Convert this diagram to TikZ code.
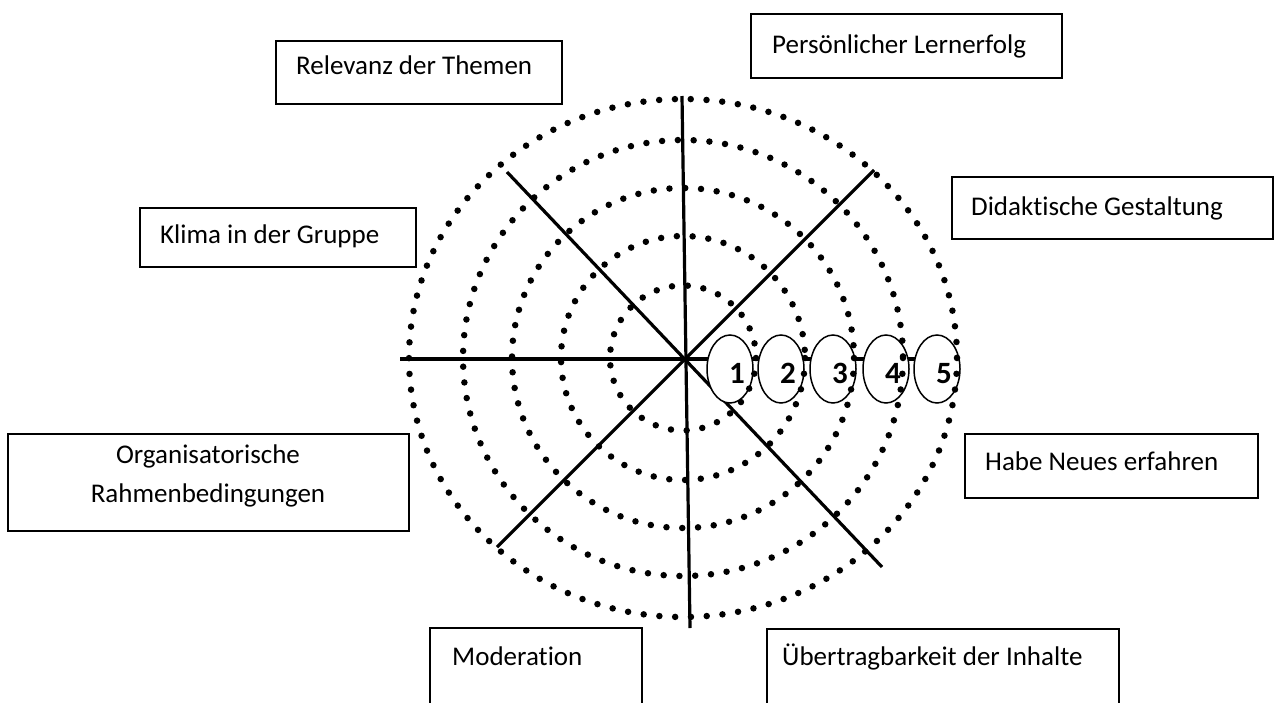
\documentclass[tikz,border=0pt]{standalone}
\usepackage{fontspec}
\setmainfont[Ligatures=NoCommon]{Carlito}
\usetikzlibrary{shapes.geometric}
\begin{document}
\begin{tikzpicture}[x=1pt,y=-1pt,
  ring/.style={line width=6.5pt, dash pattern=on 0pt off 15.8pt, line cap=round},
  axisline/.style={line width=3.2pt},
  boxline/.style={line width=1.8pt},
  lbl/.style={anchor=base west, inner sep=0pt, font=\fontsize{27}{32}\selectfont},
  oval/.style={draw, ellipse, fill=white, line width=1.5pt, minimum width=46pt, minimum height=68pt, inner sep=0pt},
  numlbl/.style={anchor=base, inner sep=0pt, font=\fontsize{31}{36}\selectfont\bfseries}]
\useasboundingbox (0,0) rectangle (1275,702);
\clip (0,0) rectangle (1275,702);

% axes
\coordinate (C) at (685,359);
\coordinate (N) at (682,96);
\coordinate (S) at (690,628);
\coordinate (W) at (400,359);
\coordinate (E) at (945,359);
\coordinate (NW) at (507,172);
\coordinate (SE) at (882,567);
\coordinate (NE) at (874,170);
\coordinate (SW) at (497,547);
\draw[axisline] (N) -- (S);
\draw[axisline] (W) -- (E);
\draw[axisline] (NW) -- (SE);
\draw[axisline] (NE) -- (SW);

% ovals
\node[oval] (o1) at (730,369) {};
\node[oval] (o2) at (781,369) {};
\node[oval] (o3) at (833,369) {};
\node[oval] (o4) at (886,369) {};
\node[oval] (o5) at (937,369) {};

% dotted rings
\coordinate (R) at (683,358);
\draw[ring] (R) ellipse [x radius=274, y radius=259];
\draw[ring] (R) ellipse [x radius=220, y radius=218];
\draw[ring] (R) ellipse [x radius=171, y radius=170];
\draw[ring] (R) ellipse [x radius=122, y radius=122];
\draw[ring] (R) ellipse [x radius=73, y radius=72.5];

% numbers
\node[numlbl] (n1) at (737,383) {1};
\node[numlbl] (n2) at (788,383) {2};
\node[numlbl] (n3) at (840,383) {3};
\node[numlbl] (n4) at (893,383) {4};
\node[numlbl] (n5) at (944,383) {5};

% boxes
\draw[boxline] (751,14) rectangle (1062,78);
\node[lbl] (t1) at (772,53) {Persönlicher Lernerfolg};

\draw[boxline] (276,41) rectangle (562,104);
\node[lbl] (t2) at (296,74) {Relevanz der Themen};

\draw[boxline] (140,208) rectangle (416,267);
\node[lbl] (t3) at (160,243) {Klima in der Gruppe};

\draw[boxline] (952,177) rectangle (1273,239);
\node[lbl] (t4) at (971,215) {Didaktische Gestaltung};

\draw[boxline] (965,434) rectangle (1258,498);
\node[lbl] (t5) at (985,470) {Habe Neues erfahren};

\draw[boxline] (8,434) rectangle (409,531);
\node[anchor=base, inner sep=0pt, font=\fontsize{27}{32}\selectfont] (t6a) at (208,463) {Organisatorische};
\node[anchor=base, inner sep=0pt, font=\fontsize{27}{32}\selectfont] (t6b) at (208,502) {Rahmenbedingungen};

\draw[boxline] (430,710) -- (430,628) -- (642,628) -- (642,710);
\node[lbl] (t7) at (452,665) {Moderation};

\draw[boxline] (767,710) -- (767,629) -- (1119,629) -- (1119,710);
\node[lbl] (t8) at (782,665) {Übertragbarkeit der Inhalte};
\end{tikzpicture}
\end{document}
